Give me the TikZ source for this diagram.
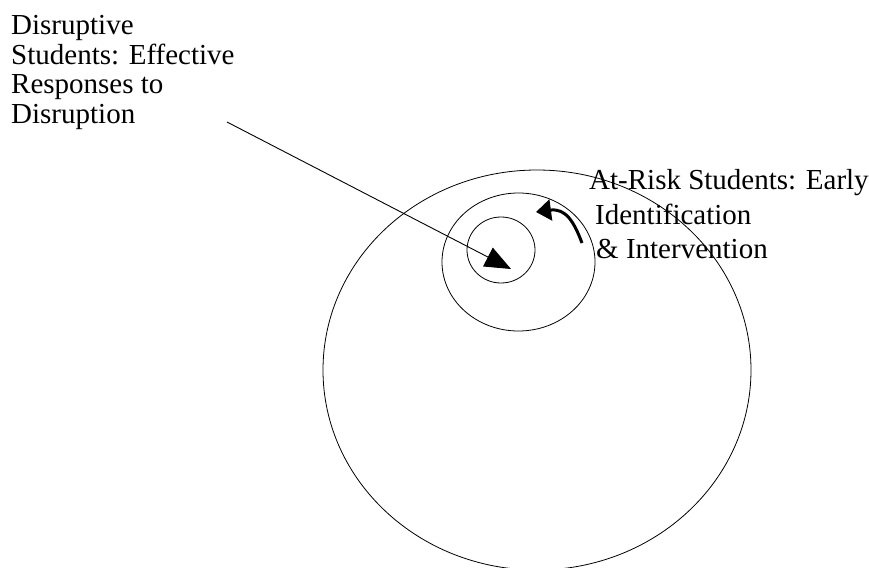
\documentclass[tikz,border=0pt]{standalone}
\usepackage{fontspec}
\setmainfont{Liberation Serif}
\usetikzlibrary{arrows.meta}
\begin{document}
\begin{tikzpicture}[x=1pt,y=-1pt,
  ring/.style={draw=black,line width=0.8pt},
  lbl/.style={anchor=base west,inner sep=0pt,font=\fontsize{29}{29}\selectfont},
  pointer/.style={draw=black,line width=0.9pt,-{Triangle[length=26pt,width=21pt]}},
  curly/.style={draw=black,line width=3pt,-{Triangle[length=15pt,width=21pt]}}]
\useasboundingbox[fill=white] (0,0) rectangle (869,567);
% rings
\draw[ring] (537,370) ellipse [x radius=214, y radius=200];
\draw[ring] (518.5,262) ellipse [x radius=76.5, y radius=69];
\draw[ring] (501,250) ellipse [x radius=34, y radius=33];
% left label
\node[lbl] (d1) at (11,35) {Disruptive};
\node[lbl] (d2) at (11,64.3) {Students: Effective};
\node[lbl] (d3) at (11,93.6) {Responses to};
\node[lbl] (d4) at (11,123) {Disruption};
% right label
\node[lbl] (r1) at (589,189) {At-Risk Students: Early};
\node[lbl] (r2) at (595,224) {Identification};
\node[lbl] (r3) at (596,258) {\&~Intervention};
% arrows
\coordinate (ps) at (227,122);
\coordinate (pe) at (511,269);
\draw[pointer] (ps) -- (pe);
\coordinate (cs) at (582,243);
\coordinate (ce) at (536,212);
\draw[curly] (cs) .. controls (574,222) and (566,208) .. (ce);
\end{tikzpicture}
\end{document}
